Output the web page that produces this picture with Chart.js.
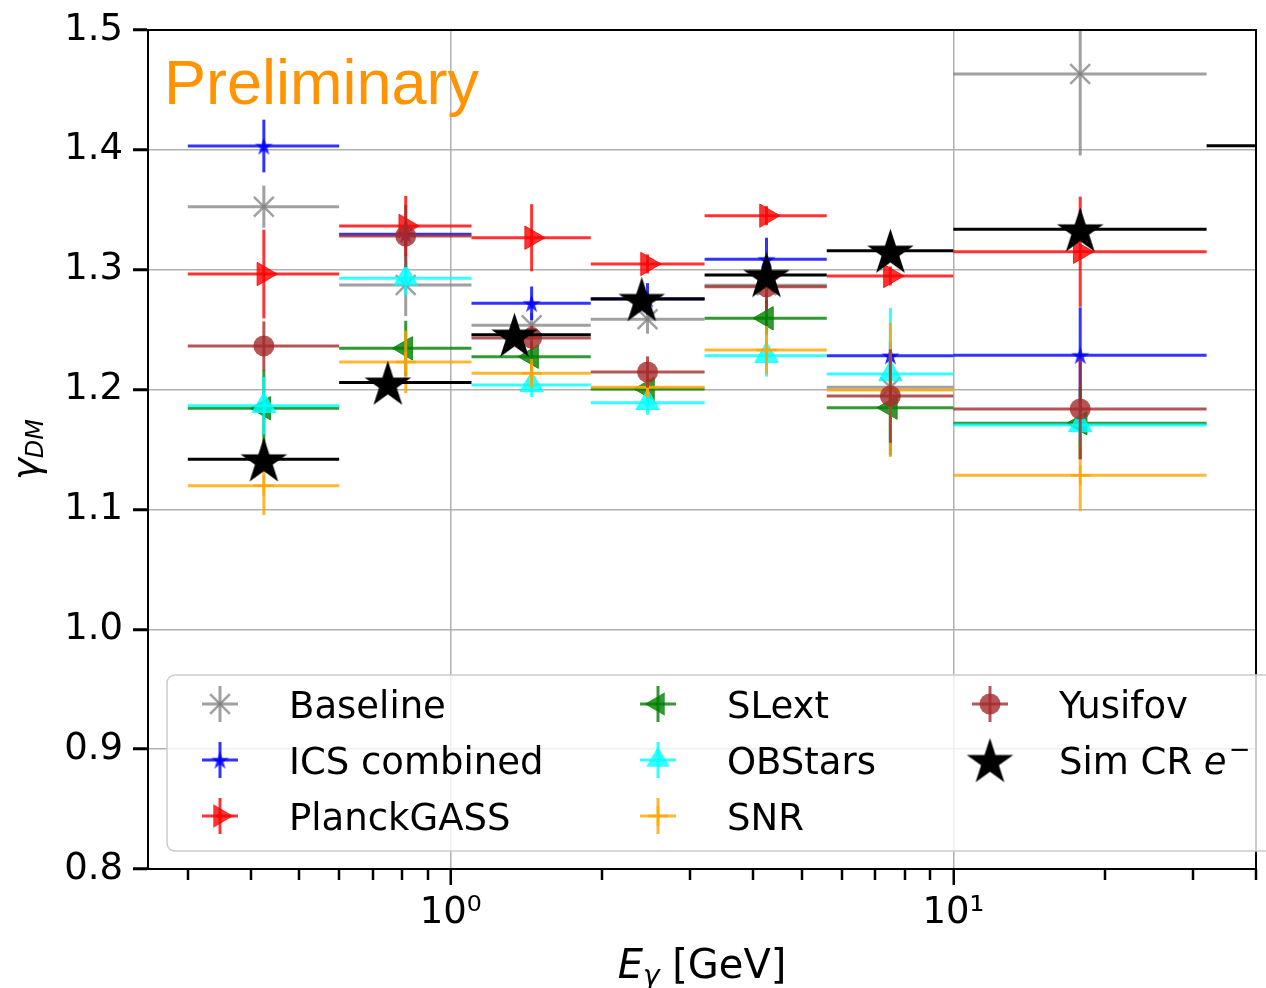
<!DOCTYPE html>
<html><head><meta charset="utf-8">
<script src="https://cdn.jsdelivr.net/npm/chart.js@4.4.0/dist/chart.umd.min.js"></script>
<style>html,body{margin:0;padding:0;background:#fff;} canvas{display:block;}</style>
</head><body>
<canvas id="c" width="1266" height="988" style="width:1266px;height:988px"></canvas>
<script>
// ---------------- data ----------------
const binLo = [0.3, 0.6, 1.1, 1.9, 3.2, 5.6, 10];
const binHi = [0.6, 1.1, 1.9, 3.2, 5.6, 10, 31.9];
const binCenters = [0.425, 0.814, 1.449, 2.464, 4.249, 7.495, 17.88];

const simLo = [0.3, 0.6, 1.1, 1.9, 3.2, 5.6, 10, 31.9];
const simHi = [0.6, 1.1, 1.9, 3.2, 5.6, 10, 31.9, 100];
const simCenters = [0.425, 0.75, 1.34, 2.40, 4.249, 7.495, 17.88, 56];

const baseline    = [1.3526, 1.2873, 1.2536, 1.2586, 1.2870, 1.2019, 1.4633];
const baselineErr = [0.0175, 0.026, 0.010, 0.012, 0.015, 0.015, 0.068];
const ics         = [1.4032, 1.3296, 1.2720, 1.2758, 1.3087, 1.2283, 1.2286];
const icsErr      = [0.022, 0.010, 0.014, 0.013, 0.018, 0.012, 0.040];
const planck      = [1.2964, 1.3365, 1.3267, 1.3048, 1.3451, 1.2948, 1.3150];
const planckErr   = [0.037, 0.025, 0.028, 0.008, 0.008, 0.008, 0.046];
const slext       = [1.1844, 1.2344, 1.2274, 1.2005, 1.2595, 1.1849, 1.1719];
const slextErr    = [0.032, 0.023, 0.012, 0.010, 0.015, 0.040, 0.030];
const obstars     = [1.1866, 1.2928, 1.2038, 1.1890, 1.2283, 1.2130, 1.1705];
const obstarsErr  = [0.024, 0.014, 0.010, 0.010, 0.0175, 0.055, 0.020];
const snr         = [1.1198, 1.2230, 1.2136, 1.2019, 1.2330, 1.1997, 1.1285];
const snrErr      = [0.0245, 0.026, 0.012, 0.008, 0.020, 0.056, 0.030];
const yusifov     = [1.2364, 1.3281, 1.2430, 1.2147, 1.2858, 1.1946, 1.1838];
const yusifovErr  = [0.0205, 0.026, 0.010, 0.013, 0.020, 0.039, 0.042];
const simCR       = [1.1418, 1.2058, 1.2458, 1.2756, 1.2956, 1.3159, 1.3337, 1.4035];

const seriesNames = ['Baseline', 'ICS combined', 'PlanckGASS', 'SLext', 'OBStars', 'SNR', 'Yusifov', 'Sim CR e\u207B'];
const yTicks = [0.8, 0.9, 1.0, 1.1, 1.2, 1.3, 1.4, 1.5];
const xMajorTicks = [1, 10];
const xMajorLabels = ['10\u2070', '10\u00B9'];
const xMinorTicks = [0.3, 0.4, 0.5, 0.6, 0.7, 0.8, 0.9, 2, 3, 4, 5, 6, 7, 8, 9, 20, 30, 40];

// ---------------- styles ----------------
const FONT = 'DejaVu Sans';
function starCanvas(r, fill) {
  const s = Math.ceil(r * 2 + 4);
  const c = document.createElement('canvas'); c.width = s; c.height = s;
  const g = c.getContext('2d');
  drawStar(g, s / 2, s / 2 + r * 0.1, r, fill);
  return c;
}
function drawStar(g, cx, cy, r, fill) {
  const ri = r * 0.382;
  g.beginPath();
  for (let i = 0; i < 10; i++) {
    const rr = i % 2 ? ri : r;
    const a = -Math.PI / 2 + i * Math.PI / 5;
    g.lineTo(cx + rr * Math.cos(a), cy + rr * Math.sin(a));
  }
  g.closePath(); g.fillStyle = fill; g.fill();
}
const bigStar = starCanvas(24.5, '#000');
const smallStar = starCanvas(9.5, 'rgba(0,0,255,0.85)');

const styles = [
  { color: 'rgba(128,128,128,0.75)', marker: 'crossRot', radius: 14, bw: 2.5, fill: 'rgba(128,128,128,0.75)' },
  { color: 'rgba(0,0,255,0.8)', marker: smallStar, radius: 9, bw: 0, fill: 'rgba(0,0,255,0.8)' },
  { color: 'rgba(255,0,0,0.8)', marker: 'triangle', rot: 90, radius: 13.5, bw: 1, fill: 'rgba(255,0,0,0.8)' },
  { color: 'rgba(0,128,0,0.8)', marker: 'triangle', rot: -90, radius: 13.5, bw: 1, fill: 'rgba(0,128,0,0.8)' },
  { color: 'rgba(0,255,255,0.8)', marker: 'triangle', rot: 0, radius: 13.5, bw: 1, fill: 'rgba(0,255,255,0.8)' },
  { color: 'rgba(255,165,0,0.8)', marker: 'cross', radius: 10, bw: 2.5, fill: 'rgba(255,165,0,0.8)' },
  { color: 'rgba(165,42,42,0.8)', marker: 'circle', radius: 10.5, bw: 0, fill: 'rgba(165,42,42,0.8)' },
  { color: '#000', marker: bigStar, radius: 24, bw: 0, fill: '#000' },
];

const seriesVals = [baseline, ics, planck, slext, obstars, snr, yusifov];
const seriesErrs = [baselineErr, icsErr, planckErr, slextErr, obstarsErr, snrErr, yusifovErr];

const datasets = seriesVals.map((vals, i) => ({
  label: seriesNames[i],
  data: vals.map((v, k) => ({ x: binCenters[k], y: v })),
  xlo: binLo, xhi: binHi, yerr: seriesErrs[i],
  borderColor: styles[i].color,
  backgroundColor: styles[i].fill,
  pointStyle: styles[i].marker,
  pointRadius: styles[i].radius,
  pointRotation: styles[i].rot || 0,
  pointBorderWidth: styles[i].bw,
  pointBorderColor: styles[i].color,
  pointBackgroundColor: styles[i].fill,
  showLine: false,
  order: 10 - i,
}));
datasets.push({
  label: seriesNames[7],
  data: simCR.map((v, k) => ({ x: simCenters[k], y: v })),
  xlo: simLo, xhi: simHi, yerr: null,
  borderColor: '#000', backgroundColor: '#000',
  pointStyle: bigStar, pointRadius: 24, pointBorderWidth: 0,
  showLine: false, order: 1,
});

// ---------------- plugins ----------------
const errorBars = {
  id: 'errorBars',
  beforeDatasetDraw(chart, args) {
    const ds = chart.data.datasets[args.index];
    if (!ds.xlo) return;
    const { ctx, chartArea: a } = chart;
    const xs = chart.scales.x, ys = chart.scales.y;
    ctx.save();
    ctx.beginPath(); ctx.rect(a.left, a.top, a.right - a.left, a.bottom - a.top); ctx.clip();
    ctx.strokeStyle = ds.borderColor; ctx.lineWidth = 3; ctx.lineCap = 'butt';
    ds.data.forEach((p, i) => {
      const py = ys.getPixelForValue(p.y);
      ctx.beginPath();
      ctx.moveTo(xs.getPixelForValue(ds.xlo[i]), py);
      ctx.lineTo(xs.getPixelForValue(ds.xhi[i]), py);
      ctx.stroke();
      if (ds.yerr) {
        const px = xs.getPixelForValue(p.x);
        ctx.beginPath();
        ctx.moveTo(px, ys.getPixelForValue(p.y + ds.yerr[i]));
        ctx.lineTo(px, ys.getPixelForValue(p.y - ds.yerr[i]));
        ctx.stroke();
      }
    });
    ctx.restore();
  }
};

function legendMarker(g, i, x, y) {
  const st = styles[i];
  g.save();
  if (i !== 7) {
    g.strokeStyle = st.color; g.lineWidth = 3;
    g.beginPath(); g.moveTo(x - 18, y); g.lineTo(x + 18, y); g.stroke();
    g.beginPath(); g.moveTo(x, y - 18); g.lineTo(x, y + 18); g.stroke();
  }
  g.fillStyle = st.fill; g.strokeStyle = st.color;
  if (st.marker === 'crossRot') {
    const d = st.radius * Math.SQRT1_2; g.lineWidth = st.bw;
    g.beginPath(); g.moveTo(x - d, y - d); g.lineTo(x + d, y + d);
    g.moveTo(x - d, y + d); g.lineTo(x + d, y - d); g.stroke();
  } else if (st.marker === 'cross') {
    g.lineWidth = st.bw; const r = st.radius;
    g.beginPath(); g.moveTo(x - r, y); g.lineTo(x + r, y); g.moveTo(x, y - r); g.lineTo(x, y + r); g.stroke();
  } else if (st.marker === 'triangle') {
    let rad = (st.rot || 0) * Math.PI / 180; const r = st.radius;
    g.beginPath();
    for (let k = 0; k < 3; k++) { g.lineTo(x + Math.sin(rad) * r, y - Math.cos(rad) * r); rad += 2 * Math.PI / 3; }
    g.closePath(); g.fill();
  } else if (st.marker === 'circle') {
    g.beginPath(); g.arc(x, y, st.radius, 0, Math.PI * 2); g.fill();
  } else {
    g.drawImage(st.marker, x - st.marker.width / 2, y - st.marker.height / 2);
  }
  g.restore();
}

const decor = {
  id: 'decor',
  afterDatasetsDraw(chart) {
    const { ctx, chartArea: a } = chart;
    const xs = chart.scales.x;
    ctx.save();
    // minor x ticks
    ctx.strokeStyle = '#000'; ctx.lineWidth = 2.5;
    xMinorTicks.forEach(v => {
      const px = Math.round(xs.getPixelForValue(v));
      ctx.beginPath(); ctx.moveTo(px, a.bottom); ctx.lineTo(px, a.bottom + 11); ctx.stroke();
    });
    // top & right spines
    ctx.lineWidth = 2;
    ctx.beginPath(); ctx.moveTo(a.left - 1, a.top); ctx.lineTo(a.right, a.top); ctx.lineTo(a.right, a.bottom); ctx.stroke();
    // Preliminary
    ctx.fillStyle = '#ff9300';
    ctx.font = '63px "Liberation Sans", Arial, sans-serif';
    ctx.textBaseline = 'alphabetic'; ctx.textAlign = 'left';
    ctx.fillText('Preliminary', 164, 104);
    // legend box
    const L = 167, T = 675, B = 851, R = 1290, rr = 8;
    ctx.beginPath();
    ctx.moveTo(L + rr, T); ctx.lineTo(R, T); ctx.lineTo(R, B); ctx.lineTo(L + rr, B);
    ctx.arcTo(L, B, L, B - rr, rr); ctx.lineTo(L, T + rr); ctx.arcTo(L, T, L + rr, T, rr); ctx.closePath();
    ctx.fillStyle = 'rgba(255,255,255,0.8)'; ctx.fill();
    ctx.strokeStyle = '#cccccc'; ctx.lineWidth = 1.5; ctx.stroke();
    const colX = [220, 658, 990];
    const rowY = [704, 760, 816];
    ctx.font = '37px "' + FONT + '"';
    ctx.fillStyle = '#000';
    seriesNames.forEach((name, i) => {
      const c = Math.floor(i / 3), r = i % 3;
      const mx = colX[c], my = rowY[r];
      legendMarker(ctx, i, mx, my);
      const tx = mx + 69, ty = my + 14;
      ctx.fillStyle = '#000';
      if (i === 7) {
        ctx.font = '37px "' + FONT + '"';
        ctx.fillText('Sim CR ', tx, ty);
        let w = ctx.measureText('Sim CR ').width;
        ctx.font = 'italic 37px "' + FONT + '"';
        ctx.fillText('e', tx + w, ty);
        w += ctx.measureText('e').width + 2;
        ctx.font = '26px "' + FONT + '"';
        ctx.fillText('\u2212', tx + w, ty - 16);
        ctx.font = '37px "' + FONT + '"';
      } else {
        ctx.fillText(name, tx, ty);
      }
    });
    ctx.restore();
  },
  afterDraw(chart) {
    const { ctx, chartArea: a } = chart;
    ctx.save();
    ctx.fillStyle = '#000'; ctx.textBaseline = 'alphabetic'; ctx.textAlign = 'left';
    // x title
    const cx = (a.left + a.right) / 2;
    ctx.font = 'italic 40px "' + FONT + '"'; const wE = ctx.measureText('E').width;
    ctx.font = 'italic 28px "' + FONT + '"'; const wG = ctx.measureText('\u03B3').width;
    ctx.font = '40px "' + FONT + '"'; const wR = ctx.measureText(' [GeV]').width;
    let x0 = cx - (wE + wG + wR) / 2, by = 978;
    ctx.font = 'italic 40px "' + FONT + '"'; ctx.fillText('E', x0, by);
    ctx.font = 'italic 28px "' + FONT + '"'; ctx.fillText('\u03B3', x0 + wE, by + 7);
    ctx.font = '40px "' + FONT + '"'; ctx.fillText(' [GeV]', x0 + wE + wG, by);
    // y title
    ctx.translate(39, (a.top + a.bottom) / 2);
    ctx.rotate(-Math.PI / 2);
    ctx.font = 'italic 37px "' + FONT + '"'; const wg = ctx.measureText('\u03B3').width;
    ctx.font = 'italic 24px "' + FONT + '"'; const wd = ctx.measureText('DM').width;
    const s0 = -(wg + wd) / 2;
    ctx.font = 'italic 37px "' + FONT + '"'; ctx.fillText('\u03B3', s0, 0);
    ctx.font = 'italic 24px "' + FONT + '"'; ctx.fillText('DM', s0 + wg, 4);
    ctx.restore();
  }
};

// ---------------- chart ----------------
new Chart(document.getElementById('c'), {
  type: 'scatter',
  data: { datasets },
  options: {
    responsive: false,
    animation: false,
    events: [],
    layout: { autoPadding: false, padding: { top: 30, right: 10, left: 0, bottom: 0 } },
    plugins: { legend: { display: false }, tooltip: { enabled: false } },
    scales: {
      x: {
        type: 'logarithmic', min: 0.25, max: 40,
        afterBuildTicks: s => { s.ticks = xMajorTicks.map(v => ({ value: v, major: true })); },
        afterFit: s => { s.height = 119; s.paddingLeft = 0; s.paddingRight = 0; },
        ticks: {
          autoSkip: false, maxRotation: 0, padding: 6, color: '#000',
          font: { family: FONT, size: 37 },
          callback: v => { const i = xMajorTicks.indexOf(v); return i >= 0 ? xMajorLabels[i] : ''; }
        },
        grid: { color: '#b0b0b0', lineWidth: 1.5, tickLength: 16, tickColor: '#000', tickWidth: 2.5 },
        border: { display: true, color: '#000', width: 2 }
      },
      y: {
        min: 0.8, max: 1.5,
        afterBuildTicks: s => { s.ticks = yTicks.map(v => ({ value: v })); },
        afterFit: s => { s.width = 148; s.paddingTop = 0; s.paddingBottom = 0; },
        ticks: {
          padding: 10, color: '#000',
          font: { family: FONT, size: 37 },
          callback: v => Number(v).toFixed(1)
        },
        grid: { color: '#b0b0b0', lineWidth: 1.5, tickLength: 15, tickColor: '#000', tickWidth: 3 },
        border: { display: true, color: '#000', width: 2 }
      }
    }
  },
  plugins: [errorBars, decor]
});
</script>
</body></html>
